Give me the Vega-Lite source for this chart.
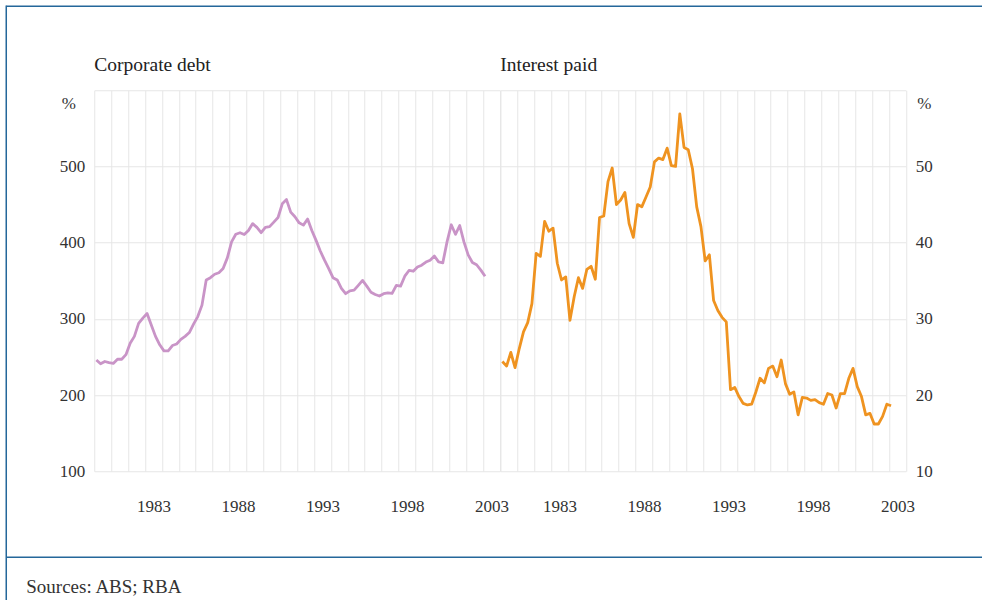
{
  "$schema": "https://vega.github.io/schema/vega-lite/v6.json",
  "background": "white",
  "padding": {"left": 5.25, "top": 5.25, "right": 0, "bottom": 0},
  "spacing": -1.5,
  "config": {
    "view": {"stroke": null},
    "font": "Liberation Serif",
    "axis": {
      "labelFont": "Liberation Serif",
      "labelFontSize": 17,
      "labelColor": "#333333",
      "titleFont": "Liberation Serif",
      "titleFontSize": 17,
      "titleFontWeight": "normal",
      "titleColor": "#333333",
      "gridColor": "#e6e6e6",
      "gridWidth": 1,
      "domain": false,
      "ticks": false,
      "tickSize": 0
    },
    "title": {"font": "Liberation Serif", "fontWeight": "normal", "color": "#222222"}
  },
  "datasets": {
    "series": [
      {"year": 1980.125, "debt": 246, "interest": 24.4},
      {"year": 1980.375, "debt": 241, "interest": 23.8},
      {"year": 1980.625, "debt": 244, "interest": 25.6},
      {"year": 1980.875, "debt": 242.5, "interest": 23.6},
      {"year": 1981.125, "debt": 241.5, "interest": 26.1},
      {"year": 1981.375, "debt": 247, "interest": 28.3},
      {"year": 1981.625, "debt": 247, "interest": 29.5},
      {"year": 1981.875, "debt": 253, "interest": 32.0},
      {"year": 1982.125, "debt": 268, "interest": 38.6},
      {"year": 1982.375, "debt": 277, "interest": 38.2},
      {"year": 1982.625, "debt": 294, "interest": 42.8},
      {"year": 1982.875, "debt": 301, "interest": 41.5},
      {"year": 1983.125, "debt": 307, "interest": 41.9},
      {"year": 1983.375, "debt": 292, "interest": 37.3},
      {"year": 1983.625, "debt": 277, "interest": 35.1},
      {"year": 1983.875, "debt": 266, "interest": 35.5},
      {"year": 1984.125, "debt": 258, "interest": 29.8},
      {"year": 1984.375, "debt": 258, "interest": 32.9},
      {"year": 1984.625, "debt": 265, "interest": 35.4},
      {"year": 1984.875, "debt": 267, "interest": 34.0},
      {"year": 1985.125, "debt": 273, "interest": 36.5},
      {"year": 1985.375, "debt": 277, "interest": 36.9},
      {"year": 1985.625, "debt": 282, "interest": 35.2},
      {"year": 1985.875, "debt": 293, "interest": 43.3},
      {"year": 1986.125, "debt": 303, "interest": 43.5},
      {"year": 1986.375, "debt": 318, "interest": 48.0},
      {"year": 1986.625, "debt": 351, "interest": 49.8},
      {"year": 1986.875, "debt": 354, "interest": 45.0},
      {"year": 1987.125, "debt": 358.5, "interest": 45.6},
      {"year": 1987.375, "debt": 360.5, "interest": 46.6},
      {"year": 1987.625, "debt": 366, "interest": 42.5},
      {"year": 1987.875, "debt": 380, "interest": 40.7},
      {"year": 1988.125, "debt": 401, "interest": 45.0},
      {"year": 1988.375, "debt": 411, "interest": 44.7},
      {"year": 1988.625, "debt": 413, "interest": 46.0},
      {"year": 1988.875, "debt": 410.6, "interest": 47.3},
      {"year": 1989.125, "debt": 416, "interest": 50.6},
      {"year": 1989.375, "debt": 425, "interest": 51.1},
      {"year": 1989.625, "debt": 420, "interest": 50.9},
      {"year": 1989.875, "debt": 413, "interest": 52.4},
      {"year": 1990.125, "debt": 420, "interest": 50.1},
      {"year": 1990.375, "debt": 421, "interest": 50.0},
      {"year": 1990.625, "debt": 427, "interest": 56.9},
      {"year": 1990.875, "debt": 433, "interest": 52.5},
      {"year": 1991.125, "debt": 451, "interest": 52.2},
      {"year": 1991.375, "debt": 456.5, "interest": 49.7},
      {"year": 1991.625, "debt": 440, "interest": 44.7},
      {"year": 1991.875, "debt": 434, "interest": 42.1},
      {"year": 1992.125, "debt": 426, "interest": 37.6},
      {"year": 1992.375, "debt": 423, "interest": 38.4},
      {"year": 1992.625, "debt": 431, "interest": 32.4},
      {"year": 1992.875, "debt": 416, "interest": 31.1},
      {"year": 1993.125, "debt": 403, "interest": 30.2},
      {"year": 1993.375, "debt": 389, "interest": 29.6},
      {"year": 1993.625, "debt": 377, "interest": 20.7},
      {"year": 1993.875, "debt": 366, "interest": 21.0},
      {"year": 1994.125, "debt": 354, "interest": 19.8},
      {"year": 1994.375, "debt": 351, "interest": 18.9},
      {"year": 1994.625, "debt": 340, "interest": 18.7},
      {"year": 1994.875, "debt": 333, "interest": 18.8},
      {"year": 1995.125, "debt": 336.7, "interest": 20.4},
      {"year": 1995.375, "debt": 337.6, "interest": 22.2},
      {"year": 1995.625, "debt": 344, "interest": 21.6},
      {"year": 1995.875, "debt": 350.5, "interest": 23.5},
      {"year": 1996.125, "debt": 343, "interest": 23.8},
      {"year": 1996.375, "debt": 335, "interest": 22.4},
      {"year": 1996.625, "debt": 332, "interest": 24.6},
      {"year": 1996.875, "debt": 330, "interest": 21.5},
      {"year": 1997.125, "debt": 333, "interest": 20.1},
      {"year": 1997.375, "debt": 334, "interest": 20.4},
      {"year": 1997.625, "debt": 333.3, "interest": 17.4},
      {"year": 1997.875, "debt": 344, "interest": 19.7},
      {"year": 1998.125, "debt": 343, "interest": 19.6},
      {"year": 1998.375, "debt": 356, "interest": 19.3},
      {"year": 1998.625, "debt": 363.5, "interest": 19.4},
      {"year": 1998.875, "debt": 362.5, "interest": 19.0},
      {"year": 1999.125, "debt": 368, "interest": 18.8},
      {"year": 1999.375, "debt": 370.4, "interest": 20.2},
      {"year": 1999.625, "debt": 374.5, "interest": 20.0},
      {"year": 1999.875, "debt": 377, "interest": 18.3},
      {"year": 2000.125, "debt": 382.5, "interest": 20.2},
      {"year": 2000.375, "debt": 374.7, "interest": 20.2},
      {"year": 2000.625, "debt": 373.5, "interest": 22.2},
      {"year": 2000.875, "debt": 401, "interest": 23.5},
      {"year": 2001.125, "debt": 423.5, "interest": 21.1},
      {"year": 2001.375, "debt": 411, "interest": 19.8},
      {"year": 2001.625, "debt": 422.5, "interest": 17.4},
      {"year": 2001.875, "debt": 401, "interest": 17.6},
      {"year": 2002.125, "debt": 384, "interest": 16.2},
      {"year": 2002.375, "debt": 374, "interest": 16.2},
      {"year": 2002.625, "debt": 371, "interest": 17.2},
      {"year": 2002.875, "debt": 364, "interest": 18.8},
      {"year": 2003.125, "debt": 356, "interest": 18.6}
    ]
  },
  "hconcat": [
    {
      "width": 0.01,
      "height": 593,
      "view": {"stroke": "#24679a", "strokeWidth": 1.5},
      "data": {"values": []},
      "mark": "point"
    },
    {
      "spacing": 0,
      "vconcat": [
        {
          "width": 975,
          "height": 0.01,
          "view": {"stroke": "#24679a", "strokeWidth": 1.5},
          "data": {"values": []},
          "mark": "point"
        },
        {
          "width": 1,
          "height": 47.2,
          "data": {"values": []},
          "mark": "point"
        },
        {
          "spacing": 0,
          "bounds": "flush",
          "hconcat": [
            {
              "width": 86.45,
              "height": 381,
              "data": {"values": []},
              "mark": "point"
            },
            {
              "width": 405.6,
              "height": 381,
              "title": {"text": "Corporate debt", "anchor": "start", "frame": "group", "baseline": "alphabetic", "offset": -0.7, "fontSize": 19.5},
              "data": {"name": "series"},
              "mark": {"type": "line", "color": "#c994c7", "strokeWidth": 2.8, "strokeJoin": "round"},
              "encoding": {
                "x": {
                  "field": "year", "type": "quantitative",
                  "scale": {"domain": [1980, 2004], "nice": false, "zero": false},
                  "axis": {
                    "values": [1980,1981,1982,1983,1984,1985,1986,1987,1988,1989,1990,1991,1992,1993,1994,1995,1996,1997,1998,1999,2000,2001,2002,2003,2004],
                    "labelExpr": "((datum.value - 1983) % 5 == 0) ? format(datum.value, 'd') : ''",
                    "labelOffset": 8.45, "labelPadding": 27.2, "grid": true, "title": null,
                    "labelFlush": false, "labelOverlap": false, "labelBound": false
                  }
                },
                "y": {
                  "field": "debt", "type": "quantitative",
                  "scale": {"domain": [100, 600], "nice": false, "zero": false},
                  "axis": {
                    "values": [100, 200, 300, 400, 500, 600],
                    "labelExpr": "datum.value < 600 ? datum.label : ''",
                    "labelPadding": 9.5, "grid": true,
                    "title": "%", "titleAngle": 0, "titleX": -26, "titleY": 13,
                    "titleAlign": "center", "titleBaseline": "middle"
                  }
                }
              }
            },
            {
              "width": 405.6,
              "height": 381,
              "title": {"text": "Interest paid", "anchor": "start", "frame": "group", "baseline": "alphabetic", "offset": -0.7, "fontSize": 19.5},
              "data": {"name": "series"},
              "mark": {"type": "line", "color": "#ef9320", "strokeWidth": 2.8, "strokeJoin": "round"},
              "encoding": {
                "x": {
                  "field": "year", "type": "quantitative",
                  "scale": {"domain": [1980, 2004], "nice": false, "zero": false},
                  "axis": {
                    "values": [1980,1981,1982,1983,1984,1985,1986,1987,1988,1989,1990,1991,1992,1993,1994,1995,1996,1997,1998,1999,2000,2001,2002,2003,2004],
                    "labelExpr": "((datum.value - 1983) % 5 == 0) ? format(datum.value, 'd') : ''",
                    "labelOffset": 8.45, "labelPadding": 27.2, "grid": true, "title": null,
                    "labelFlush": false, "labelOverlap": false, "labelBound": false
                  }
                },
                "y": {
                  "field": "interest", "type": "quantitative",
                  "scale": {"domain": [10, 60], "nice": false, "zero": false},
                  "axis": {
                    "orient": "right",
                    "values": [10, 20, 30, 40, 50, 60],
                    "labelExpr": "datum.value < 60 ? datum.label : ''",
                    "labelPadding": 9.5, "grid": true,
                    "title": "%", "titleAngle": 0, "titleX": 18, "titleY": 13,
                    "titleAlign": "center", "titleBaseline": "middle"
                  }
                }
              }
            }
          ]
        },
        {
          "width": 1,
          "height": 41,
          "data": {"values": []},
          "mark": "point"
        },
        {
          "width": 975,
          "height": 0.01,
          "view": {"stroke": "#24679a", "strokeWidth": 1.5},
          "title": {"text": "Sources: ABS; RBA", "orient": "bottom", "anchor": "start", "frame": "group", "baseline": "alphabetic", "offset": 36, "dx": 19, "fontSize": 19, "color": "#333333"},
          "data": {"values": []},
          "mark": "point"
        }
      ]
    }
  ]
}
